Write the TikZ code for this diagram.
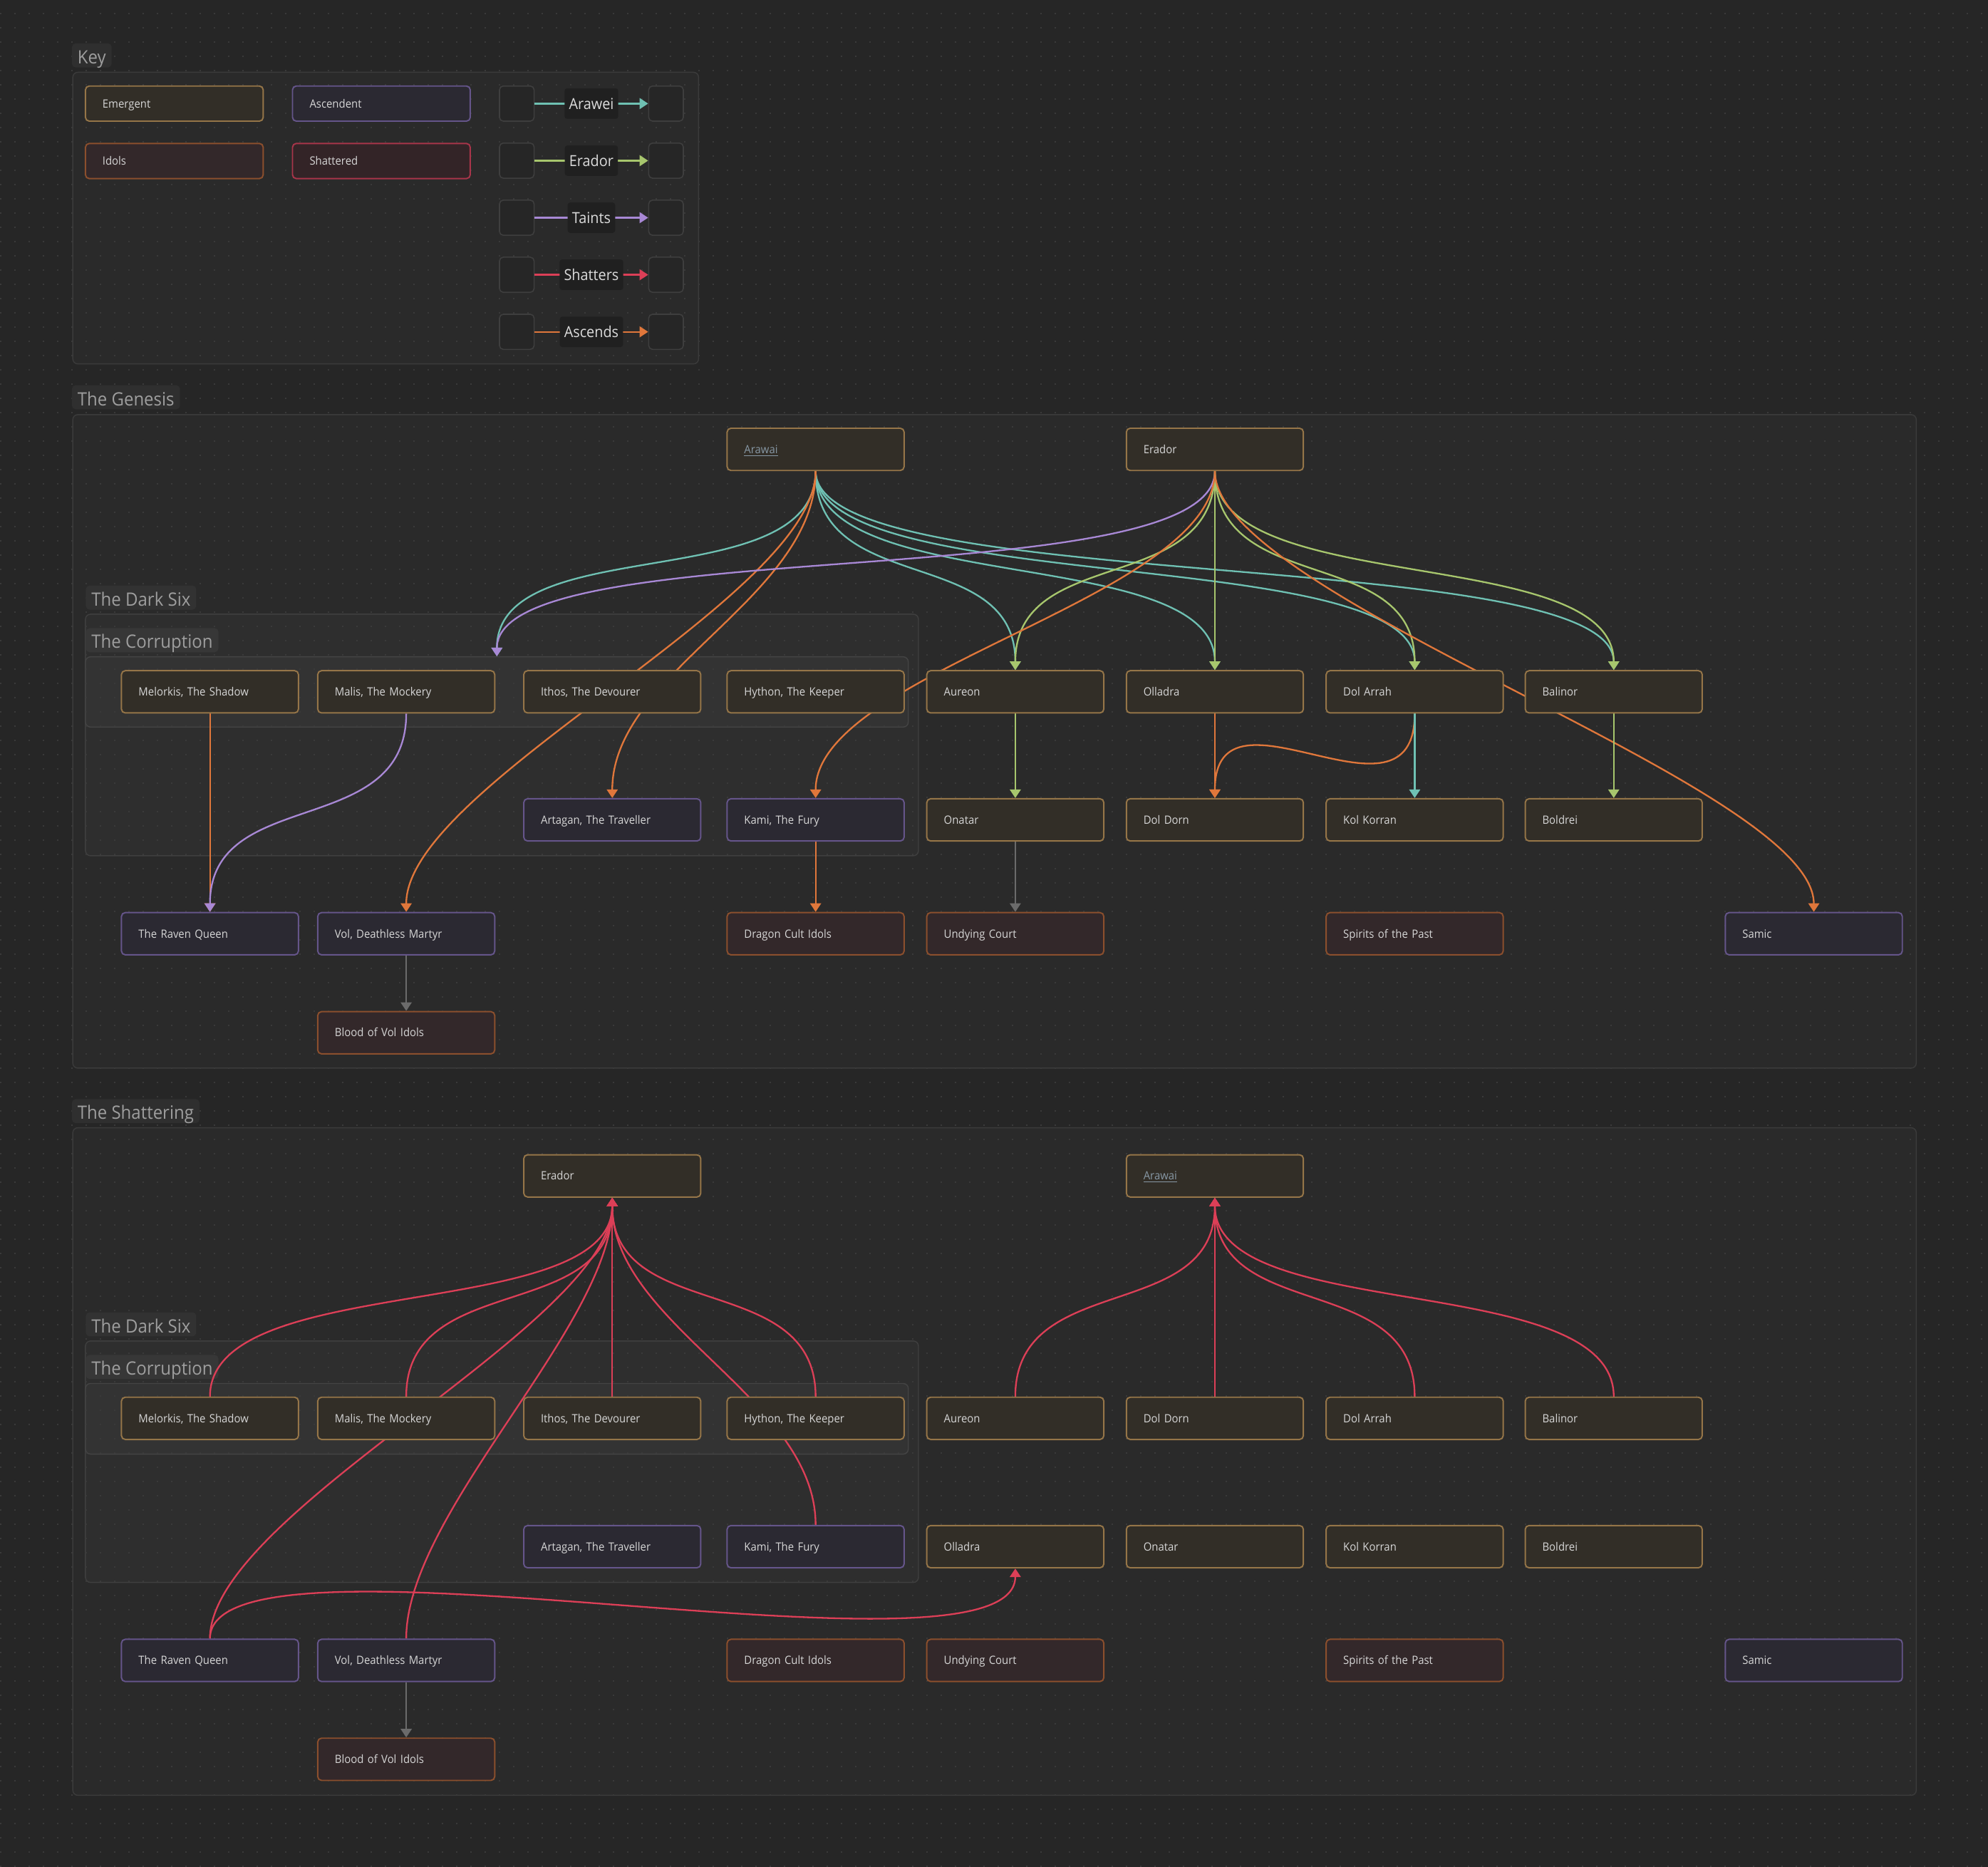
\documentclass[tikz,border=0pt]{standalone}
\usepackage{fontspec}
\setmainfont{Open Sans}[FakeStretch=0.93]
\usetikzlibrary{arrows.meta,patterns}
\definecolor{bgc}{HTML}{262626}
\definecolor{dotc}{HTML}{3A3A3A}
\definecolor{grpF}{HTML}{2A2A2A}
\definecolor{grpD}{HTML}{3B3B3B}
\definecolor{sixF}{HTML}{2E2E2E}
\definecolor{sixD}{HTML}{3F3F3F}
\definecolor{corF}{HTML}{333333}
\definecolor{corD}{HTML}{444444}
\definecolor{lblF}{HTML}{2F2F2F}
\definecolor{sixlblF}{HTML}{323232}
\definecolor{corlblF}{HTML}{373737}
\definecolor{lblT}{HTML}{9E9E9E}
\definecolor{nodeT}{HTML}{D6D6D6}
\definecolor{linkT}{HTML}{8798A5}
\definecolor{emerF}{HTML}{322E27}
\definecolor{emerD}{HTML}{957548}
\definecolor{ascF}{HTML}{2B2932}
\definecolor{ascD}{HTML}{65558A}
\definecolor{idolF}{HTML}{33282A}
\definecolor{idolD}{HTML}{8B4F2D}
\definecolor{shatF}{HTML}{332427}
\definecolor{shatD}{HTML}{A8354A}
\definecolor{kboxF}{HTML}{262626}
\definecolor{kboxD}{HTML}{3E3E3E}
\definecolor{klabF}{HTML}{202020}
\definecolor{klabT}{HTML}{DCDCDC}
\definecolor{cTeal}{HTML}{6FC1B3}
\definecolor{cGreen}{HTML}{A7C66D}
\definecolor{cPurple}{HTML}{A888D5}
\definecolor{cRed}{HTML}{DC3F57}
\definecolor{cOrange}{HTML}{E0773B}
\definecolor{cGray}{HTML}{6B6B6B}
\pgfdeclarepatternformonly{dotgrid}{\pgfqpoint{0pt}{0pt}}{\pgfqpoint{1pt}{1pt}}{\pgfqpoint{11.24pt}{11.24pt}}{%
  \pgfpathrectangle{\pgfqpoint{0pt}{0pt}}{\pgfqpoint{1pt}{1pt}}\pgfusepath{fill}}
\pgfdeclarelayer{bglayer}
\pgfdeclarelayer{edgelayer}
\pgfsetlayers{bglayer,edgelayer,main}
\tikzset{
  cardbase/.style={rounded corners=3pt, line width=1.1pt, minimum width=139.6pt,
    minimum height=33.3pt, inner xsep=13.5pt, inner ysep=0pt, text width=112.6pt,
    align=left, text height=6.4pt, text depth=0pt,
    font=\fontsize{9}{11}\selectfont, text=nodeT},
  emer/.style={cardbase, fill=emerF, draw=emerD},
  asc/.style={cardbase, fill=ascF, draw=ascD},
  idol/.style={cardbase, fill=idolF, draw=idolD},
  shat/.style={cardbase, fill=shatF, draw=shatD},
  keycard/.style={minimum height=27.7pt, minimum width=140.2pt, text width=113.2pt},
  kbox/.style={rounded corners=3pt, line width=0.9pt, fill=kboxF, draw=kboxD,
    minimum width=27.3pt, minimum height=27.7pt, inner sep=0pt},
  klab/.style={fill=klabF, rounded corners=2pt, inner xsep=3.5pt, inner ysep=0pt,
    minimum height=24pt, text=klabT, font=\fontsize{12}{14}\selectfont,
    text height=8.6pt, text depth=0pt},
  grp/.style={rounded corners=4pt, line width=0.8pt, inner sep=0pt, anchor=north west},
  outergrp/.style={grp, fill=grpF, draw=grpD},
  sixgrp/.style={grp, fill=sixF, draw=sixD},
  corgrp/.style={grp, fill=corF, draw=corD},
  glabel/.style={anchor=south west, fill=lblF, rounded corners=3pt, inner xsep=4.5pt,
    inner ysep=0pt, minimum height=19pt, text=lblT, font=\fontsize{14.5}{16}\selectfont,
    text height=13pt, text depth=0pt},
  conn/.style={line width=1.3pt, -{Triangle[length=6.8pt,width=8.6pt]}},
}
\newcommand{\lnk}[1]{\textcolor{linkT}{\underline{#1}}}
\begin{document}
\begin{tikzpicture}[x=1pt,y=-1pt]
\useasboundingbox (0,0) rectangle (1568,1472.45);
\begin{pgfonlayer}{bglayer}
\fill[bgc] (0,0) rectangle (1568,1472.45);
% groups
\node[outergrp, minimum width=493.6pt, minimum height=230pt] (keygrp) at (57,56.6) {};
\node[outergrp, minimum width=1454pt, minimum height=515.4pt] (gen) at (57,326.6) {};
\node[sixgrp, minimum width=657pt, minimum height=190.5pt] (gsix) at (67,484) {};
\node[corgrp, minimum width=649pt, minimum height=55.4pt] (gcor) at (67,517.6) {};
\node[outergrp, minimum width=1454pt, minimum height=526.5pt] (sha) at (57,889) {};
\node[sixgrp, minimum width=657pt, minimum height=190.4pt] (ssix) at (67,1057.2) {};
\node[corgrp, minimum width=649pt, minimum height=55.7pt] (scor) at (67,1090.7) {};
% dot grid
\fill[pattern=dotgrid, pattern color=dotc] (0,0) rectangle (1568,1472.45);
% group labels
\node[glabel] (keylbl) at (56.5,53.4) {Key};
\node[glabel] (genlbl) at (56.5,323) {The Genesis};
\node[glabel, fill=sixlblF] (gsixlbl) at (67.5,481) {The Dark Six};
\node[glabel, fill=corlblF] (gcorlbl) at (67.5,514.6) {The Corruption};
\node[glabel] (shalbl) at (56.5,886) {The Shattering};
\node[glabel, fill=sixlblF] (ssixlbl) at (67.5,1054.2) {The Dark Six};
\node[glabel, fill=corlblF] (scorlbl) at (67.5,1087.8) {The Corruption};
\end{pgfonlayer}

% ---------- Key ----------
\node[emer, keycard] (kemer) at (137.5,81.7) {Emergent};
\node[asc, keycard] (kasc) at (300.8,81.7) {Ascendent};
\node[idol, keycard] (kidol) at (137.5,127) {Idols};
\node[shat, keycard] (kshat) at (300.8,127) {Shattered};
\foreach \n/\yy in {1/81.7,2/126.7,3/171.7,4/216.7,5/261.7}{
  \node[kbox] (kl\n) at (407.6,\yy) {};
  \node[kbox] (kr\n) at (525.3,\yy) {};
}
\draw[conn, cTeal] (kl1.east) -- node[klab] (klab1) {Arawei} (kr1.west);
\draw[conn, cGreen] (kl2.east) -- node[klab] (klab2) {Erador} (kr2.west);
\draw[conn, cPurple] (kl3.east) -- node[klab] (klab3) {Taints} (kr3.west);
\draw[conn, cRed] (kl4.east) -- node[klab] (klab4) {Shatters} (kr4.west);
\draw[conn, cOrange] (kl5.east) -- node[klab] (klab5) {Ascends} (kr5.west);

% ---------- The Genesis ----------
\node[emer] (g-arawai) at (643.3,354.4) {\lnk{Arawai}};
\node[emer] (g-erador) at (958.2,354.4) {Erador};
\node[emer] (g-melorkis) at (165.6,545.6) {Melorkis, The Shadow};
\node[emer] (g-malis) at (320.4,545.6) {Malis, The Mockery};
\node[emer] (g-ithos) at (482.9,545.6) {Ithos, The Devourer};
\node[emer] (g-hython) at (643.3,545.6) {Hython, The Keeper};
\node[emer] (g-aureon) at (800.8,545.6) {Aureon};
\node[emer] (g-olladra) at (958.2,545.6) {Olladra};
\node[emer] (g-dolarrah) at (1115.8,545.6) {Dol Arrah};
\node[emer] (g-balinor) at (1272.8,545.6) {Balinor};
\node[asc] (g-artagan) at (482.9,646.6) {Artagan, The Traveller};
\node[asc] (g-kami) at (643.3,646.6) {Kami, The Fury};
\node[emer] (g-onatar) at (800.8,646.6) {Onatar};
\node[emer] (g-doldorn) at (958.2,646.6) {Dol Dorn};
\node[emer] (g-kolkorran) at (1115.8,646.6) {Kol Korran};
\node[emer] (g-boldrei) at (1272.8,646.6) {Boldrei};
\node[asc] (g-raven) at (165.6,736.4) {The Raven Queen};
\node[asc] (g-vol) at (320.4,736.4) {Vol, Deathless Martyr};
\node[idol] (g-dragon) at (643.3,736.4) {Dragon Cult Idols};
\node[idol] (g-undying) at (800.8,736.4) {Undying Court};
\node[idol] (g-spirits) at (1115.8,736.4) {Spirits of the Past};
\node[asc] (g-samic) at (1430.6,736.4) {Samic};
\node[idol] (g-blood) at (320.4,814.5) {Blood of Vol Idols};

% ---------- The Shattering ----------
\node[emer] (s-erador) at (482.9,927.4) {Erador};
\node[emer] (s-arawai) at (958.2,927.4) {\lnk{Arawai}};
\node[emer] (s-melorkis) at (165.6,1118.6) {Melorkis, The Shadow};
\node[emer] (s-malis) at (320.4,1118.6) {Malis, The Mockery};
\node[emer] (s-ithos) at (482.9,1118.6) {Ithos, The Devourer};
\node[emer] (s-hython) at (643.3,1118.6) {Hython, The Keeper};
\node[emer] (s-aureon) at (800.8,1118.6) {Aureon};
\node[emer] (s-doldorn) at (958.2,1118.6) {Dol Dorn};
\node[emer] (s-dolarrah) at (1115.8,1118.6) {Dol Arrah};
\node[emer] (s-balinor) at (1272.8,1118.6) {Balinor};
\node[asc] (s-artagan) at (482.9,1219.8) {Artagan, The Traveller};
\node[asc] (s-kami) at (643.3,1219.8) {Kami, The Fury};
\node[emer] (s-olladra) at (800.8,1219.8) {Olladra};
\node[emer] (s-onatar) at (958.2,1219.8) {Onatar};
\node[emer] (s-kolkorran) at (1115.8,1219.8) {Kol Korran};
\node[emer] (s-boldrei) at (1272.8,1219.8) {Boldrei};
\node[asc] (s-raven) at (165.6,1309.5) {The Raven Queen};
\node[asc] (s-vol) at (320.4,1309.5) {Vol, Deathless Martyr};
\node[idol] (s-dragon) at (643.3,1309.5) {Dragon Cult Idols};
\node[idol] (s-undying) at (800.8,1309.5) {Undying Court};
\node[idol] (s-spirits) at (1115.8,1309.5) {Spirits of the Past};
\node[asc] (s-samic) at (1430.6,1309.5) {Samic};
\node[idol] (s-blood) at (320.4,1387.5) {Blood of Vol Idols};

% ---------- edges ----------
\begin{pgfonlayer}{edgelayer}
\foreach \t in {gcor,g-aureon,g-olladra,g-dolarrah,g-balinor}{
  \draw[conn, cTeal] (g-arawai.south) .. controls +(0,100) and +(0,-100) .. (\t.north);
}
\foreach \t in {g-vol,g-artagan}{
  \draw[conn, cOrange] (g-arawai.south) .. controls +(0,100) and +(0,-100) .. (\t.north);
}
\draw[conn, cPurple] (g-erador.south) .. controls +(0,100) and +(0,-100) .. (gcor.north);
\foreach \t in {g-aureon,g-olladra,g-dolarrah,g-balinor}{
  \draw[conn, cGreen] (g-erador.south) .. controls +(0,100) and +(0,-100) .. (\t.north);
}
\foreach \t in {g-kami,g-samic}{
  \draw[conn, cOrange] (g-erador.south) .. controls +(0,100) and +(0,-100) .. (\t.north);
}
\draw[conn, cOrange] (g-melorkis.south) -- (g-raven.north);
\draw[conn, cPurple] (g-malis.south) .. controls +(0,100) and +(0,-100) .. (g-raven.north);
\draw[conn, cGreen] (g-aureon.south) -- (g-onatar.north);
\draw[conn, cOrange] (g-olladra.south) -- (g-doldorn.north);
\draw[conn, cOrange] (g-dolarrah.south) .. controls +(0,100) and +(0,-100) .. (g-doldorn.north);
\draw[conn, cTeal] (g-dolarrah.south) -- (g-kolkorran.north);
\draw[conn, cGreen] (g-balinor.south) -- (g-boldrei.north);
\draw[conn, cOrange] (g-kami.south) -- (g-dragon.north);
\draw[conn, cGray] (g-onatar.south) -- (g-undying.north);
\draw[conn, cGray] (g-vol.south) -- (g-blood.north);
\foreach \s in {s-melorkis,s-malis,s-ithos,s-hython,s-kami,s-raven,s-vol}{
  \draw[conn, cRed] (\s.north) .. controls +(0,-100) and +(0,100) .. (s-erador.south);
}
\foreach \s in {s-aureon,s-doldorn,s-dolarrah,s-balinor}{
  \draw[conn, cRed] (\s.north) .. controls +(0,-100) and +(0,100) .. (s-arawai.south);
}
\draw[conn, cRed] (s-raven.north) .. controls +(0,-100) and +(0,100) .. (s-olladra.south);
\draw[conn, cGray] (s-vol.south) -- (s-blood.north);
\end{pgfonlayer}
\end{tikzpicture}
\end{document}
